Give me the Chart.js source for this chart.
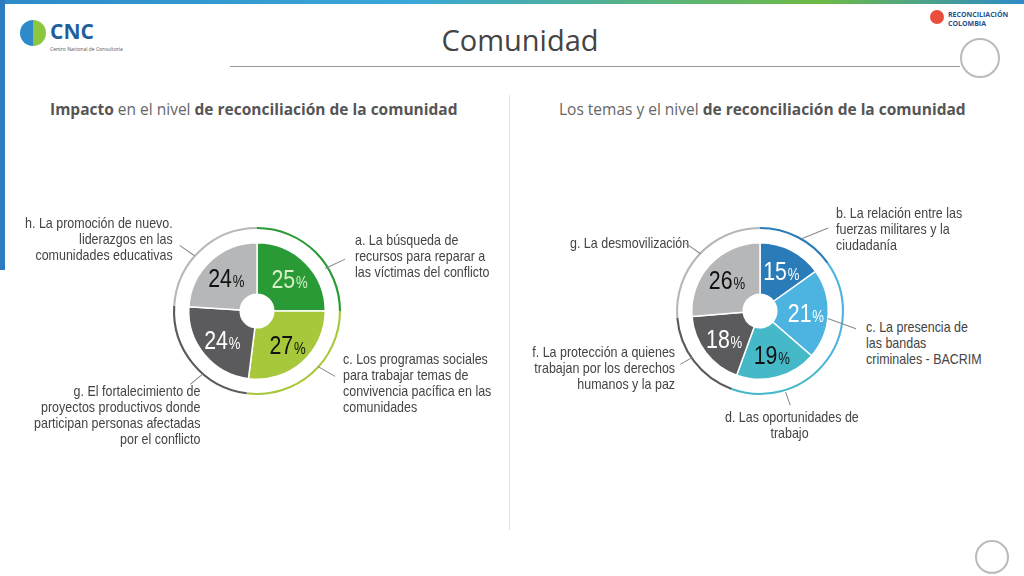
<!DOCTYPE html>
<html>
<head>
<meta charset="utf-8">
<script src="https://cdn.jsdelivr.net/npm/chart.js@4"></script>
<style>
body { margin:0; width:1024px; height:576px; position:relative; overflow:hidden; background:#fff; font-family:"Open Sans", sans-serif; }
.abs { position:absolute; }
.lbl { position:absolute; font-family:"Liberation Sans",sans-serif; font-size:14.5px; line-height:16px; color:#444; white-space:nowrap; transform:scaleX(0.86); transform-origin:0 0; }
.r { text-align:right; transform-origin:100% 0; }
.sub { position:absolute; top:98px; font-size:15.5px; color:#666; white-space:nowrap; }
.sub b { color:#555; }
.lead { position:absolute; height:1px; background:#888; transform-origin:0 0; }
</style>
</head>
<body>
<div class="abs" style="left:0;top:0;width:1024px;height:4px;background:linear-gradient(90deg,#2e8ac8,#3aa7d8 40%,#6dbb45 80%,#2e8ac8)"></div>
<div class="abs" style="left:0;top:0;width:5px;height:270px;background:#2e7cc0"></div>
<div class="abs" style="left:20px;top:20px;width:26px;height:26px;border-radius:50%;background:conic-gradient(#8cc63f 0 50%,#2e8ac8 50% 100%)"></div>
<div class="abs" style="left:50px;top:18px;font:bold 21px 'Open Sans';color:#1f5f9e;line-height:26px">CNC</div>
<div class="abs" style="left:50px;top:46px;font-size:5px;color:#555">Centro Nacional de Consultoría</div>
<div class="abs" style="left:930px;top:10px;width:14px;height:14px;border-radius:50%;background:#e94e3c"></div>
<div class="abs" style="left:948px;top:10px;font:bold 7px 'Open Sans';color:#1f4f8e">RECONCILIACIÓN COLOMBIA</div>
<div class="abs" style="left:960px;top:38px;width:36px;height:36px;border-radius:50%;border:2px solid #bbb"></div>
<div class="abs" style="left:975px;top:540px;width:30px;height:30px;border-radius:50%;border:2px solid #bbb"></div>
<div class="abs" style="left:0;top:20px;width:1040px;text-align:center;font-size:29px;color:#444">Comunidad</div>
<div class="abs" style="left:230px;top:66px;width:730px;height:1px;background:#999"></div>
<div class="abs" style="left:509px;top:95px;width:1px;height:435px;background:#e2e2e2"></div>
<div class="sub" style="left:50px"><b>Impacto</b> en el nivel <b>de reconciliación de la comunidad</b></div>
<div class="sub" style="left:559px">Los temas y el nivel <b>de reconciliación de la comunidad</b></div>

<canvas id="c1" class="abs" style="left:157px;top:211px" width="200" height="200"></canvas>
<canvas id="c2" class="abs" style="left:660px;top:211px" width="200" height="200"></canvas>

<div class="lbl r" style="right:851px;top:215px">h. La promoción de nuevo.<br>liderazgos en las<br>comunidades educativas</div>
<div class="lbl" style="left:355px;top:232px">a. La búsqueda de<br>recursos para reparar a<br>las víctimas del conflicto</div>
<div class="lbl" style="left:343px;top:351px">c. Los programas sociales<br>para trabajar temas de<br>convivencia pacífica en las<br>comunidades</div>
<div class="lbl r" style="right:824px;top:383px">g. El fortalecimiento de<br>proyectos productivos donde<br>participan personas afectadas<br>por el conflicto</div>
<div class="lbl" style="left:570px;top:235px">g. La desmovilización</div>
<div class="lbl" style="left:836px;top:205px">b. La relación entre las<br>fuerzas militares y la<br>ciudadanía</div>
<div class="lbl" style="left:866px;top:319px">c. La presencia de<br>las bandas<br>criminales - BACRIM</div>
<div class="lbl" style="left:725px;top:409px;width:150px;text-align:center">d. Las oportunidades de<br>trabajo</div>
<div class="lbl r" style="right:349px;top:344px">f. La protección a quienes<br>trabajan por los derechos<br>humanos y la paz</div>

<div class="lead" style="left:180px;top:245px;width:18px;transform:rotate(35deg)"></div>
<div class="lead" style="left:325px;top:268px;width:22px;transform:rotate(-25deg)"></div>
<div class="lead" style="left:318px;top:366px;width:20px;transform:rotate(30deg)"></div>
<div class="lead" style="left:190px;top:384px;width:16px;transform:rotate(-40deg)"></div>
<div class="lead" style="left:686px;top:243px;width:18px;transform:rotate(35deg)"></div>
<div class="lead" style="left:802px;top:238px;width:28px;transform:rotate(-22deg)"></div>
<div class="lead" style="left:828px;top:318px;width:30px;transform:rotate(20deg)"></div>
<div class="lead" style="left:786px;top:392px;width:14px;transform:rotate(70deg)"></div>
<div class="lead" style="left:680px;top:364px;width:14px;transform:rotate(-30deg)"></div>

<script>
// left chart: impacto
const leftLabels = ['a', 'c', 'g', 'h'];
const leftValues = [25, 27, 24, 24];
const leftColors = ['#2a9a36', '#a6c83a', '#5b5b5d', '#b6b7b9'];
const leftText = ['#d8f0c8', '#111', '#fff', '#111'];

// right chart: temas
const rightLabels = ['b', 'c', 'd', 'f', 'g'];
const rightValues = [15, 21, 19, 18, 26];
const rightColors = ['#2a7cb8', '#4db4e2', '#46b9c9', '#5b5b5d', '#b6b7b9'];
const rightText = ['#fff', '#fff', '#111', '#fff', '#111'];

const bigFont = '26px "Liberation Sans", sans-serif';
const smallFont = '16px "Liberation Sans", sans-serif';

const pctPlugin = {
    id: 'pct',
    afterDatasetsDraw(chart, args, opts) {
        const ctx = chart.ctx;
        const meta = chart.getDatasetMeta(2);
        meta.data.forEach((arc, i) => {
            const mid = (arc.startAngle + arc.endAngle) / 2;
            const r = (arc.innerRadius + arc.outerRadius) / 2 + 3;
            const x = arc.x + Math.cos(mid) * r;
            const y = arc.y + Math.sin(mid) * r;
            const num = String(chart.data.datasets[2].data[i]);
            ctx.save();
            ctx.translate(x, y);
            ctx.scale(0.82, 1);
            ctx.fillStyle = opts.colors[i];
            ctx.font = bigFont;
            const w1 = ctx.measureText(num).width;
            ctx.font = smallFont;
            const w2 = ctx.measureText('%').width;
            const x0 = -(w1 + w2) / 2;
            ctx.font = bigFont;
            ctx.fillText(num, x0, 9);
            ctx.font = smallFont;
            ctx.fillText('%', x0 + w1 + 1, 9);
            ctx.restore();
        });
    }
};

function makeDonut(id, labels, values, colors, textColors) {
    new Chart(document.getElementById(id), {
        type: 'doughnut',
        data: {
            labels: labels,
            datasets: [{
                data: values,
                backgroundColor: colors,
                borderWidth: 0,
                weight: 2
            }, {
                data: values,
                backgroundColor: 'rgba(0,0,0,0)',
                borderWidth: 0,
                weight: 13
            }, {
                data: values,
                backgroundColor: colors,
                borderColor: '#fff',
                borderWidth: 1.5,
                weight: 49
            }]
        },
        options: {
            responsive: false,
            animation: false,
            cutout: 20,
            radius: 84,
            plugins: {
                legend: { display: false },
                tooltip: { enabled: false },
                pct: { colors: textColors }
            }
        },
        plugins: [pctPlugin]
    });
}

makeDonut('c1', leftLabels, leftValues, leftColors, leftText);
makeDonut('c2', rightLabels, rightValues, rightColors, rightText);
</script>
</body>
</html>
